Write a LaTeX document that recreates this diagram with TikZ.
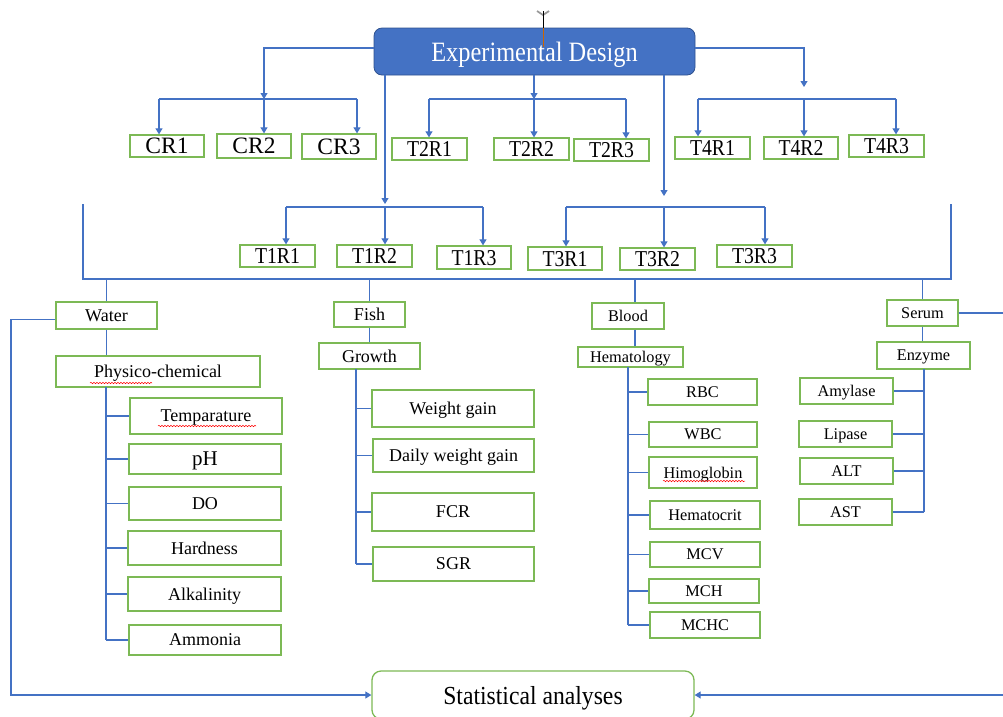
\documentclass[tikz,border=0pt]{standalone}
\usepackage{fontspec}
\setmainfont{Liberation Serif}
\newfontfamily\condA[FakeStretch=0.87]{Liberation Serif}
\newfontfamily\condB[FakeStretch=0.91]{Liberation Serif}
\usetikzlibrary{arrows.meta,decorations.pathmorphing}
\definecolor{lblue}{HTML}{4472C4}
\definecolor{dblue}{HTML}{2F528F}
\definecolor{bgreen}{HTML}{7CB955}
\newcommand{\gbx}[7]{\node[gbox,#6,minimum width={(#4-#2)*1pt},minimum height={(#5-#3)*1pt}] (#1) at ({(#2+#4)/2},{(#3+#5)/2}) {#7};}
\begin{document}
\begin{tikzpicture}[x=1pt,y=-1pt,
  gbox/.style={draw=bgreen, line width=1.3pt, inner sep=0pt, text depth=0pt},
  edbox/.style={fill=lblue, draw=dblue, line width=0.8pt, rounded corners=8pt, text=white, inner sep=0pt, text depth=0pt, font=\condA\fontsize{28}{30}\selectfont},
  sbox/.style={draw=bgreen, line width=1.3pt, rounded corners=9pt, inner sep=0pt, text depth=0pt, font=\condB\fontsize{26}{28}\selectfont},
  ln/.style={draw=lblue, line width=1.1pt},
  arr/.style={ln, -{Triangle[width=7pt,length=6pt]}},
  fC/.style={font=\fontsize{23.5}{25}\selectfont},
  fT/.style={font=\condA\fontsize{22.7}{24}\selectfont},
  fW/.style={font=\fontsize{18}{20}\selectfont},
  fH/.style={font=\fontsize{21}{23}\selectfont},
  fB/.style={font=\fontsize{16.3}{18}\selectfont},
  squig/.style={red, line width=0.5pt, decorate, decoration={snake, amplitude=0.7pt, segment length=3pt}}
]
\useasboundingbox (0,0) rectangle (1003,716);

% main box
\node[edbox, minimum width=321pt, minimum height=47pt] (ED) at (534.5,51.5) {Experimental Design};

% first-level boxes
\gbx{CR1}{130}{135}{204}{157}{fC}{CR1}
\gbx{CR2}{217}{134}{291}{158}{fC}{CR2}
\gbx{CR3}{302}{134}{376}{159}{fC}{CR3}
\gbx{T2R1}{392}{138}{467}{160}{fT}{T2R1}
\gbx{T2R2}{494}{138}{569}{160}{fT}{T2R2}
\gbx{T2R3}{574}{139}{649}{161}{fT}{T2R3}
\gbx{T4R1}{675}{137}{750}{159}{fT}{T4R1}
\gbx{T4R2}{764}{137}{838}{159}{fT}{T4R2}
\gbx{T4R3}{849}{135}{924}{157}{fT}{T4R3}
\gbx{T1R1}{240}{245}{315}{267}{fT}{T1R1}
\gbx{T1R2}{337}{245}{412}{267}{fT}{T1R2}
\gbx{T1R3}{437}{246}{511}{269}{fT}{T1R3}
\gbx{T3R1}{528}{247}{602}{270}{fT}{T3R1}
\gbx{T3R2}{620}{248}{695}{270}{fT}{T3R2}
\gbx{T3R3}{717}{245}{792}{267}{fT}{T3R3}

% CR group
\coordinate (cL) at (159,99); \coordinate (cM) at (264,99); \coordinate (cR) at (357,99);
\draw[arr] ([yshift=3.5pt]ED.west) -| (cM);
\draw[ln] (cL) -- (cR);
\draw[arr] (cL) -- (cL |- CR1.north);
\draw[arr] (cM) -- (cM |- CR2.north);
\draw[arr] (cR) -- (cR |- CR3.north);

% T2 group
\coordinate (dL) at (429,99); \coordinate (dM) at (534,99); \coordinate (dR) at (626,99);
\draw[arr] (ED.south -| dM) -- (dM);
\draw[ln] (dL) -- (dR);
\draw[arr] (dL) -- (dL |- T2R1.north);
\draw[arr] (dM) -- (dM |- T2R2.north);
\draw[arr] (dR) -- (dR |- T2R3.north);

% T4 group
\coordinate (eTip) at (804,87);
\coordinate (eL) at (698,99); \coordinate (eM) at (804,99); \coordinate (eR) at (896,99);
\draw[arr] ([yshift=3.5pt]ED.east) -| (eTip);
\draw[ln] (eL) -- (eR);
\draw[arr] (eL) -- (eL |- T4R1.north);
\draw[arr] (eM) -- (eM |- T4R2.north);
\draw[arr] (eR) -- (eR |- T4R3.north);

% T1 group
\coordinate (fTip) at (385,204);
\coordinate (fL) at (286,207); \coordinate (fM) at (385,207); \coordinate (fR) at (483,207);
\draw[arr] (ED.south -| fTip) -- (fTip);
\draw[ln] (fL) -- (fR);
\draw[arr] (fL) -- (fL |- T1R1.north);
\draw[arr] (fM) -- (fM |- T1R2.north);
\draw[arr] (fR) -- (fR |- T1R3.north);

% T3 group
\coordinate (gTip) at (664,196);
\coordinate (gL) at (566,207); \coordinate (gM) at (664,207); \coordinate (gR) at (765,207);
\draw[arr] (ED.south -| gTip) -- (gTip);
\draw[ln] (gL) -- (gR);
\draw[arr] (gL) -- (gL |- T3R1.north);
\draw[arr] (gM) -- (gM |- T3R2.north);
\draw[arr] (gR) -- (gR |- T3R3.north);

% lower boxes
\gbx{Water}{56}{302}{157}{329}{fW}{Water}
\gbx{Phys}{56}{356}{260}{387}{fW}{Physico-chemical}
\gbx{Temp}{130}{398}{282}{434}{fW}{Temparature}
\gbx{pH}{129}{444}{281}{474}{fH}{pH}
\gbx{DO}{129}{487}{281}{520}{fW}{DO}
\gbx{Hard}{128}{531}{281}{565}{fW}{Hardness}
\gbx{Alk}{128}{577}{281}{611}{fW}{Alkalinity}
\gbx{Amm}{129}{625}{281}{655}{fW}{Ammonia}

\gbx{Fish}{334}{302}{405}{327}{fW}{Fish}
\gbx{Growth}{319}{343}{420}{369}{fW}{Growth}
\gbx{WG}{372}{390}{534}{427}{fW}{Weight gain}
\gbx{DWG}{373}{439}{534}{472}{fW}{Daily weight gain}
\gbx{FCR}{372}{493}{534}{531}{fW}{FCR}
\gbx{SGR}{373}{547}{534}{581}{fW}{SGR}

\gbx{Blood}{592}{303}{664}{329}{fB}{Blood}
\gbx{Hema}{578}{347}{683}{367}{fB}{Hematology}
\gbx{RBC}{648}{379}{757}{405}{fB}{RBC}
\gbx{WBC}{649}{422}{757}{447}{fB}{WBC}
\gbx{Himo}{649}{457}{757}{488}{fB}{Himoglobin}
\gbx{Hcrit}{650}{501}{760}{529}{fB}{Hematocrit}
\gbx{MCV}{650}{542}{760}{567}{fB}{MCV}
\gbx{MCH}{649}{579}{759}{603}{fB}{MCH}
\gbx{MCHC}{650}{612}{760}{638}{fB}{MCHC}

\gbx{Serum}{887}{300}{958}{326}{fB}{Serum}
\gbx{Enz}{877}{342}{970}{369}{fB}{Enzyme}
\gbx{Amy}{800}{378}{893}{404}{fB}{Amylase}
\gbx{Lip}{799}{421}{892}{447}{fB}{Lipase}
\gbx{ALT}{800}{458}{893}{484}{fB}{ALT}
\gbx{AST}{799}{499}{892}{525}{fB}{AST}

\node[sbox, minimum width=322pt, minimum height=48pt] (Stat) at (533,695) {Statistical analyses};

% bracket
\coordinate (bL) at (83,204); \coordinate (bBL) at (83,279);
\coordinate (bR) at (951,204); \coordinate (bBR) at (951,279);
\draw[ln] (bL) -- (bBL) -- (bBR) -- (bR);
\coordinate (bloodX) at (635,279);
\draw[ln] (Water.north |- bBL) -- (Water.north);
\draw[ln] (Fish.north |- bBL) -- (Fish.north);
\draw[ln] (bloodX) -- (bloodX |- Blood.north);
\draw[ln] (Serum.north |- bBL) -- (Serum.north);

% water tree
\draw[ln] (Water.south) -- (Water.south |- Phys.north);
\coordinate (wsp) at (106,387);
\draw[ln] (wsp) -- (wsp |- Amm.west);
\foreach \n in {Temp,pH,DO,Hard,Alk,Amm} \draw[ln] (wsp |- \n.west) -- (\n.west);

% fish tree
\draw[ln] (Fish.south) -- (Growth.north);
\coordinate (fsp) at (356,369);
\draw[ln] (fsp) -- (fsp |- SGR.west);
\foreach \n in {WG,DWG,FCR,SGR} \draw[ln] (fsp |- \n.west) -- (\n.west);

% blood tree
\draw[ln] (bloodX |- Blood.south) -- (bloodX |- Hema.north);
\coordinate (hsp) at (628,367);
\draw[ln] (hsp) -- (hsp |- MCHC.west);
\foreach \n in {RBC,WBC,Himo,Hcrit,MCV,MCH,MCHC} \draw[ln] (hsp |- \n.west) -- (\n.west);

% serum tree
\draw[ln] (Serum.south) -- (Serum.south |- Enz.north);
\coordinate (esp) at (924,369);
\draw[ln] (esp) -- (esp |- AST.east);
\foreach \n in {Amy,Lip,ALT,AST} \draw[ln] (esp |- \n.east) -- (\n.east);

% to statistical analyses
\coordinate (lc) at (11,0);
\coordinate (rc) at (1012,0);
\draw[arr] ([yshift=-4pt]Water.west) -| (lc |- Stat.west) -- (Stat.west);
\draw[arr] (Serum.east) -| (rc |- Stat.east) -- (Stat.east);

% spell-check marks
\draw[squig] (90,383) -- (152,383);
\draw[squig] (158,426) -- (256,426);
\draw[squig] (663,481) -- (745,481);

% anchor mark at top
\draw[gray!80, line width=1.8pt] (537,11) -- (543,15) -- (549,11);
\draw[black, line width=0.9pt] (543,11) -- (543,28);
\draw[orange!80!black, line width=0.8pt] (543,28) -- (543,47);
\end{tikzpicture}
\end{document}
